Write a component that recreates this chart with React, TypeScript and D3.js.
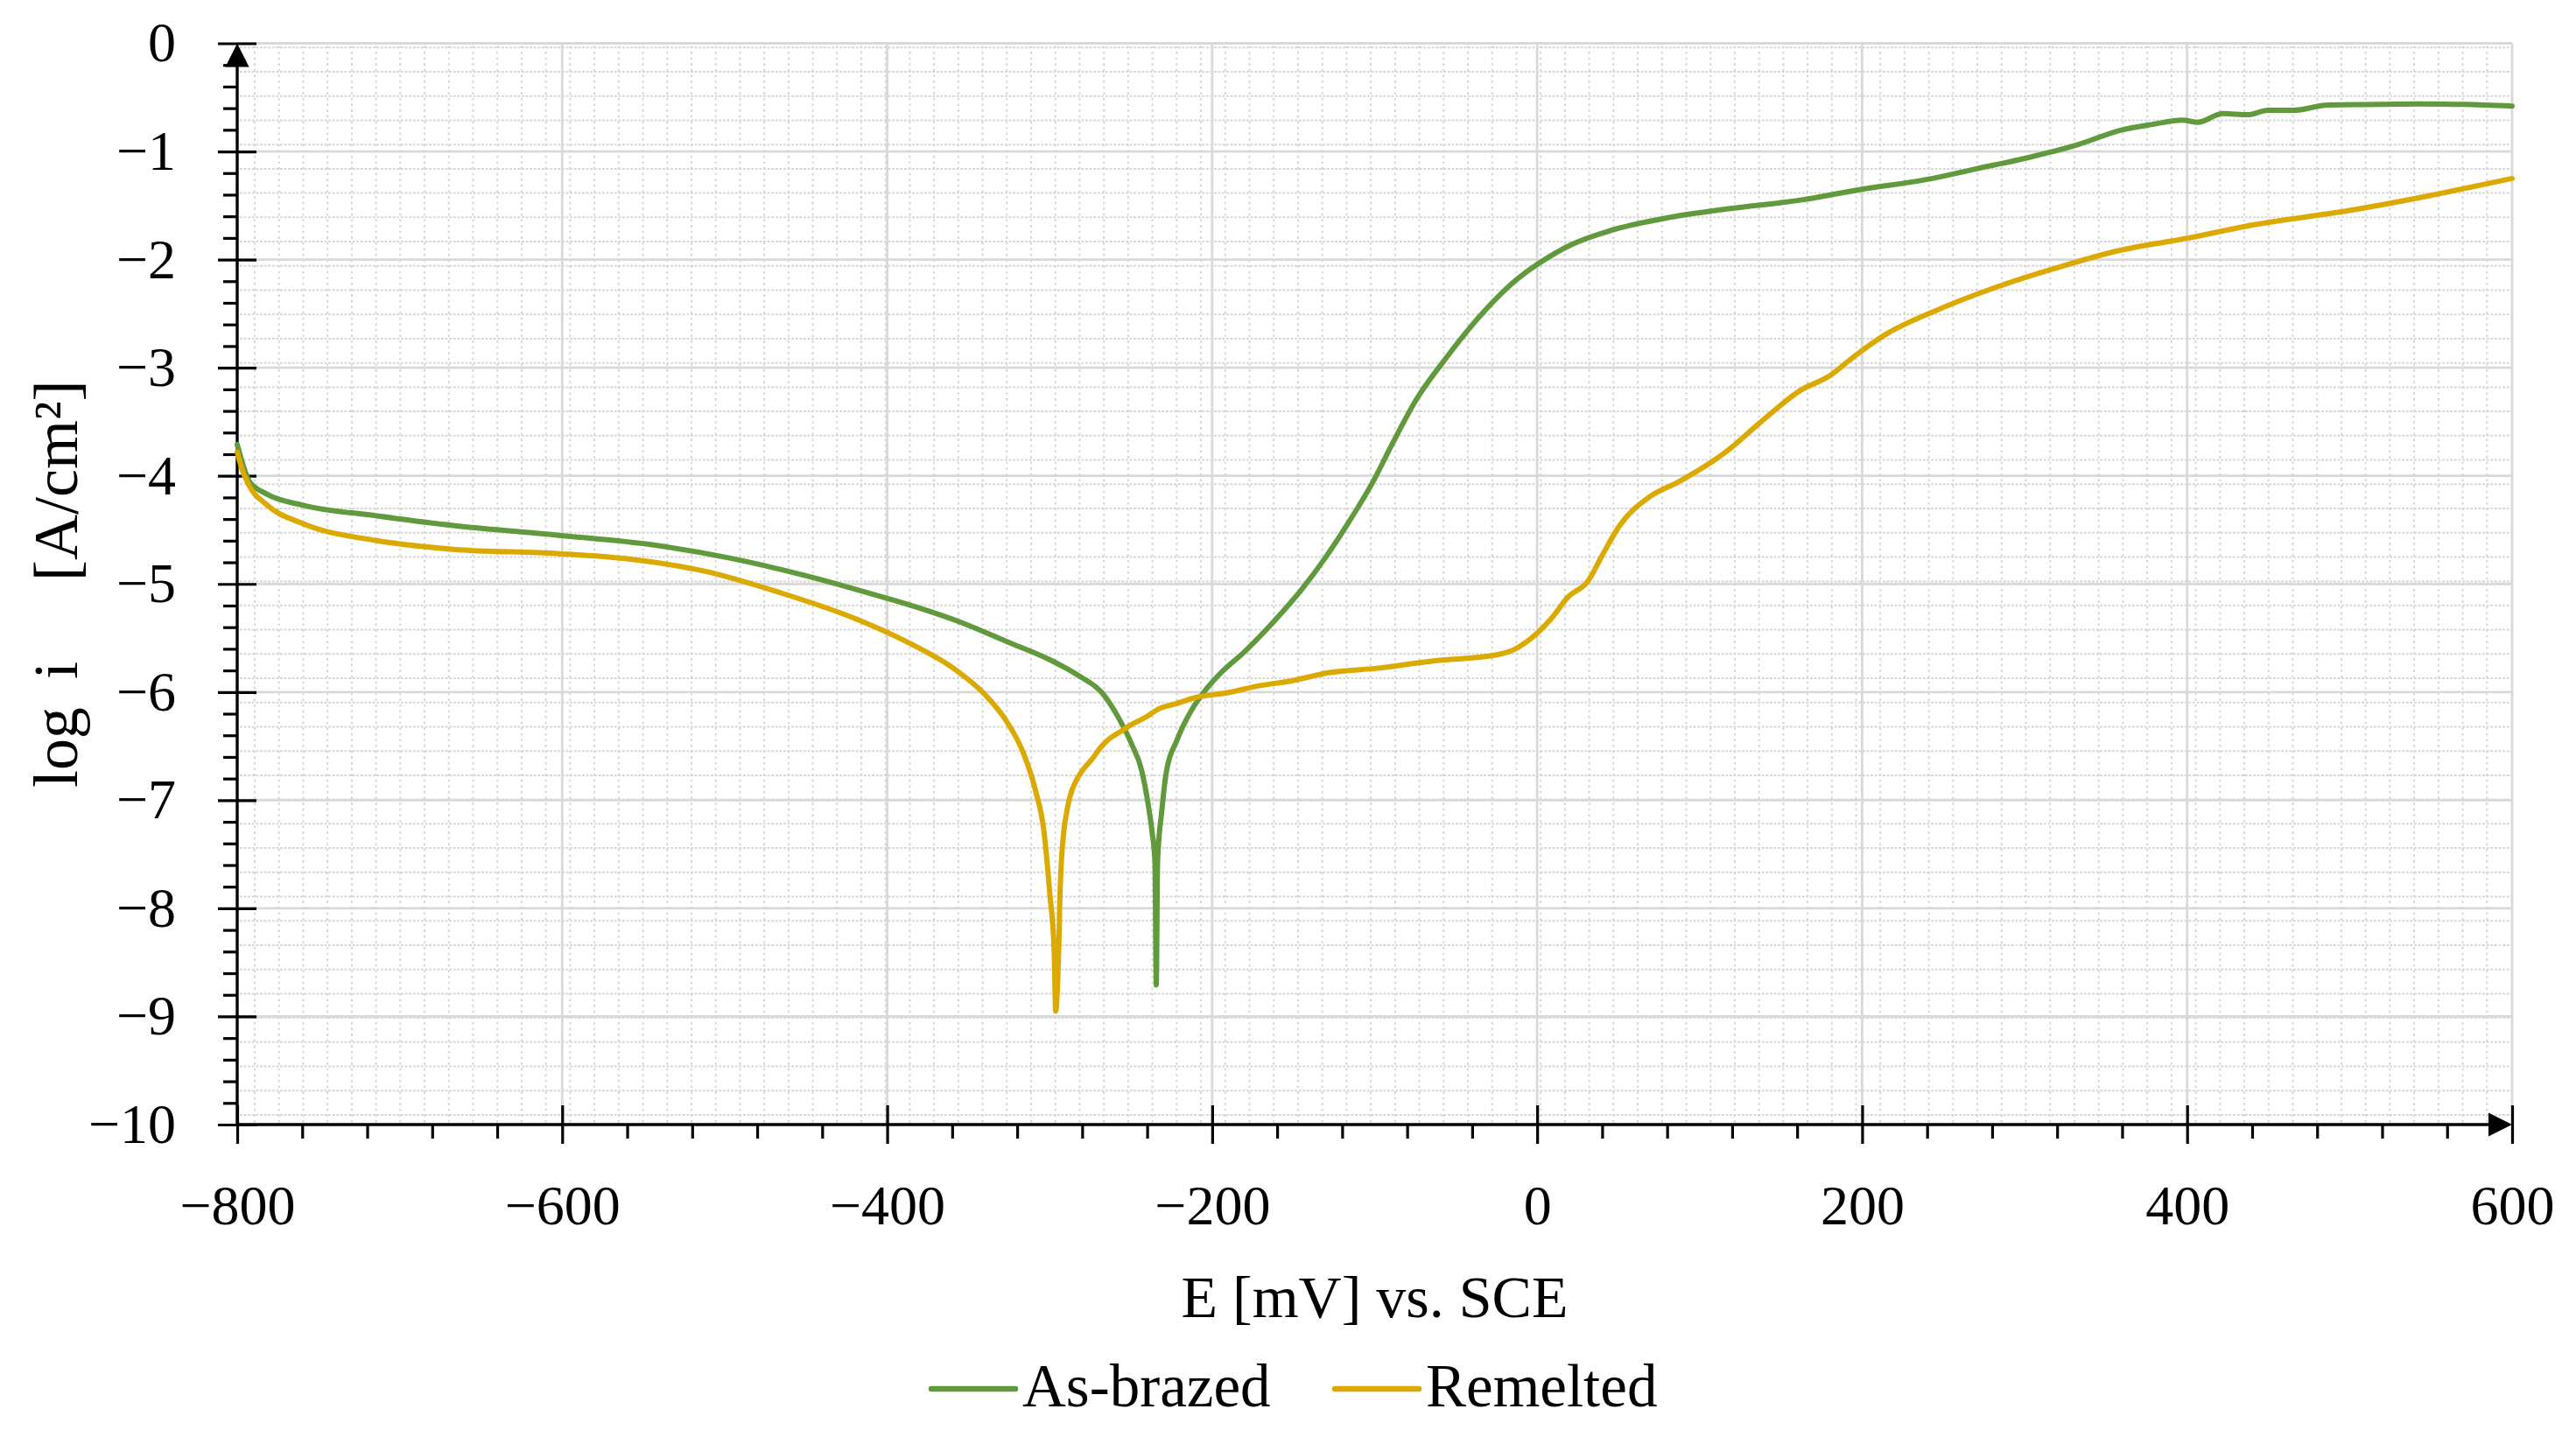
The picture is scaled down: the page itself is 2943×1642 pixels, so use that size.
import { useEffect, useRef } from "react";
import * as d3 from "d3";

const WIDTH = 2943;
const HEIGHT = 1642;
const FONT = "'Liberation Serif', 'Times New Roman', serif";

const E_DOMAIN = [-800, 600];
const LOG_DOMAIN = [-10, 0];
const X_TICKS = [-800, -600, -400, -200, 0, 200, 400, 600];
const Y_TICKS = [0, -1, -2, -3, -4, -5, -6, -7, -8, -9, -10];

const SERIES_NAMES = ["As-brazed", "Remelted"];
const SERIES_COLORS = ["#609a3c", "#dba900"];

// As-brazed: potential (mV vs. SCE) and log current density
const AS_BRAZED_E = [
  -800, -796.6, -792.6, -781.7, -760, -713.8, -667, -602, -543.5, -497, -451,
  -407.7, -380.8, -353.8, -326.9, -300, -282, -267.6, -256.8, -249.6, -243.3,
  -239.7, -237, -235.2, -234.4, -233.6, -231, -228.1, -221.8, -212.8, -205.6,
  -195.8, -179.6, -161.6, -145.4, -130, -115.6, -101.2, -89, -74.6, -55.5,
  -36.2, -14.6, 0.5, 21.4, 45.5, 81.6, 117.7, 162, 200, 239.5, 270.4, 301.3,
  332.2, 360, 378.6, 397.2, 406.5, 422, 437.3, 449.8, 465.3, 486.9, 517.9,
  542.6, 570.5, 600,
];
const AS_BRAZED_LOGI = [
  -3.71, -3.89, -4.05, -4.17, -4.27, -4.37, -4.46, -4.55, -4.64, -4.76, -4.92,
  -5.1, -5.22, -5.36, -5.53, -5.7, -5.85, -6.01, -6.26, -6.48, -6.73,
  -7.01, -7.29, -7.57, -8.71, -7.57, -7.1, -6.73, -6.45, -6.17, -6.01,
  -5.84, -5.62, -5.34, -5.06, -4.75, -4.42, -4.06, -3.7, -3.3, -2.9,
  -2.54, -2.21, -2.04, -1.86, -1.73, -1.61, -1.53, -1.45, -1.35, -1.26, -1.16, -1.06,
  -0.94, -0.8, -0.75, -0.71, -0.73, -0.65, -0.66, -0.62, -0.62, -0.57, -0.565,
  -0.56, -0.565, -0.58,
];

// Remelted
const REMELTED_E = [
  -800, -797, -793, -781.7, -760, -714, -667, -602, -559, -513, -466, -419.8,
  -380.8, -359.2, -339.4, -327, -316, -308.9, -303.5, -300, -297.2, -296.3,
  -294.5, -293.6, -291.3, -290, -287.4, -283.7, -280.1, -273.9, -268.5, -264,
  -256.8, -249.6, -240.6, -233.5, -222.7, -210.1, -192.1, -170.6, -152.6,
  -127.7, -98.8, -62.8, -26.6, -14.6, -0.3, 9.3, 19, 31, 40.6, 50.3, 69.6,
  86.5, 117.7, 137, 162, 180.6, 193, 214.7, 245.6, 279.7, 316.8, 357, 401,
  440.5, 502.4, 548.8, 600,
];
const REMELTED_LOGI = [
  -3.78, -3.94, -4.08, -4.27, -4.44, -4.6, -4.68, -4.72, -4.77, -4.88, -5.08, -5.32,
  -5.59, -5.78, -6.03, -6.26, -6.57, -6.9, -7.29, -7.85, -8.41, -8.95,
  -8.41, -7.85, -7.29, -7.15, -6.96, -6.82, -6.73, -6.62, -6.51, -6.44,
  -6.37, -6.3, -6.23, -6.16, -6.11, -6.05, -6.01, -5.94, -5.9,
  -5.82, -5.78, -5.71, -5.66, -5.61, -5.46, -5.31, -5.12, -4.98, -4.72, -4.47, -4.19,
  -4.06, -3.76, -3.51, -3.21, -3.07, -2.92, -2.69, -2.47, -2.27, -2.09, -1.92, -1.8,
  -1.68, -1.54, -1.41, -1.25,
];

const SERIES = [
  { name: SERIES_NAMES[0], color: SERIES_COLORS[0], e: AS_BRAZED_E, logi: AS_BRAZED_LOGI },
  { name: SERIES_NAMES[1], color: SERIES_COLORS[1], e: REMELTED_E, logi: REMELTED_LOGI },
];

export default function App() {
  const svgRef = useRef<SVGSVGElement>(null);

  useEffect(() => {
    if (!svgRef.current) return;
    const svg = d3.select(svgRef.current);
    svg.selectAll("*").remove();

    const left = 271, right = 2870, top = 49.5, bottom = 1285;
    const x = d3.scaleLinear().domain(E_DOMAIN).range([left, right]);
    const y = d3.scaleLinear().domain(LOG_DOMAIN).range([bottom, top]);

    svg.append("rect").attr("width", WIDTH).attr("height", HEIGHT).attr("fill", "#fff");

    // fine dotted background grid
    const cell = 27.72;
    const dots = svg.append("g").attr("stroke", "#d6d6d6").attr("stroke-width", 2);
    d3.range(left + 20, right - 2, cell).forEach((px) => {
      dots.append("line")
        .attr("x1", px).attr("x2", px).attr("y1", top + 3).attr("y2", bottom)
        .attr("stroke-dasharray", "2.6 4");
    });
    d3.range(top + 4.8, bottom - 2, cell).forEach((py) => {
      dots.append("line")
        .attr("x1", left + 3).attr("x2", right).attr("y1", py).attr("y2", py)
        .attr("stroke-dasharray", "2.8 1.8");
    });

    // major grid
    const grid = svg.append("g").attr("stroke", "#d9d9d9").attr("stroke-width", 2.8);
    X_TICKS.filter((v) => v !== E_DOMAIN[0]).forEach((v) => {
      grid.append("line").attr("x1", x(v)).attr("x2", x(v)).attr("y1", top).attr("y2", bottom);
    });
    Y_TICKS.filter((v) => v !== LOG_DOMAIN[0]).forEach((v) => {
      grid.append("line").attr("x1", left).attr("x2", right).attr("y1", y(v)).attr("y2", y(v));
    });

    // axes
    const styleAxis = (a: d3.Selection<SVGGElement, unknown, null, undefined>) => {
      a.select(".domain").remove();
      a.selectAll(".tick line").attr("stroke", "#000").attr("stroke-width", 3.2);
      a.attr("font-family", FONT).attr("font-size", 64);
      a.selectAll(".tick text").attr("fill", "#000");
    };

    const xMinor = d3.range(-800, 601, 40).filter((v) => v % 200 !== 0);
    svg.append("g")
      .attr("transform", `translate(0,${bottom})`)
      .call(d3.axisBottom(x).tickValues(xMinor).tickSize(16).tickFormat(() => ""))
      .call(styleAxis);
    svg.append("g")
      .attr("transform", `translate(0,${bottom})`)
      .call(d3.axisBottom(x).tickValues(X_TICKS).tickSize(22).tickFormat(d3.format("d")))
      .call(styleAxis)
      .call((a) => a.selectAll(".tick line").attr("y1", -22))
      .call((a) => a.selectAll(".tick text").attr("y", 114).attr("dy", 0));

    const yMinor = d3.range(0, 50).map((i) => -i * 0.2).filter((_, i) => i % 5 !== 0);
    svg.append("g")
      .attr("transform", `translate(${left},0)`)
      .call(d3.axisLeft(y).tickValues(yMinor).tickSize(16).tickFormat(() => ""))
      .call(styleAxis);
    svg.append("g")
      .attr("transform", `translate(${left},0)`)
      .call(d3.axisLeft(y).tickValues(Y_TICKS).tickSize(22).tickFormat(d3.format("d")))
      .call(styleAxis)
      .call((a) => a.selectAll(".tick line").attr("x1", 22))
      .call((a) => a.selectAll(".tick text").attr("x", -70).attr("dy", "0.32em"));

    // axis lines with arrows
    svg.append("line")
      .attr("x1", left).attr("x2", right - 10).attr("y1", bottom).attr("y2", bottom)
      .attr("stroke", "#000").attr("stroke-width", 3.4);
    svg.append("line")
      .attr("x1", left).attr("x2", left).attr("y1", bottom).attr("y2", top + 10)
      .attr("stroke", "#000").attr("stroke-width", 3.4);
    svg.append("path")
      .attr("d", `M${right},${bottom} L${right - 27},${bottom - 13.5} L${right - 27},${bottom + 13.5} Z`)
      .attr("fill", "#000");
    svg.append("path")
      .attr("d", `M${left},${top} L${left - 13.5},${top + 27} L${left + 13.5},${top + 27} Z`)
      .attr("fill", "#000");

    // data
    const line = d3.line<[number, number]>()
      .x((d) => x(d[0]))
      .y((d) => y(d[1]))
      .curve(d3.curveMonotoneX);
    SERIES.forEach((s) => {
      const pts = s.e.map((e, i) => [e, s.logi[i]] as [number, number]);
      svg.append("path")
        .attr("d", line(pts) ?? "")
        .attr("fill", "none")
        .attr("stroke", s.color)
        .attr("stroke-width", 6)
        .attr("stroke-linejoin", "round")
        .attr("stroke-linecap", "round");
    });

    // titles
    svg.append("text")
      .attr("x", (left + right) / 2).attr("y", 1505)
      .attr("text-anchor", "middle")
      .attr("font-family", FONT).attr("font-size", 68)
      .text("E [mV] vs. SCE");

    const yTitle = svg.append("text")
      .attr("transform", `translate(88,${(top + bottom) / 2}) rotate(-90)`)
      .attr("text-anchor", "middle")
      .attr("font-family", FONT).attr("font-size", 72);
    yTitle.append("tspan").text("log");
    yTitle.append("tspan").attr("dx", 32).text("i");
    yTitle.append("tspan").attr("dx", 92).text("[A/cm²]");

    // legend
    const legendX = [1064, 1525];
    SERIES.forEach((s, i) => {
      const lg = svg.append("g").attr("transform", `translate(${legendX[i]},1587)`);
      lg.append("line")
        .attr("x1", 0).attr("x2", 96).attr("y1", 0).attr("y2", 0)
        .attr("stroke", s.color).attr("stroke-width", 6.5).attr("stroke-linecap", "round");
      lg.append("text")
        .attr("x", 104).attr("y", 20)
        .attr("font-family", FONT).attr("font-size", 69)
        .text(s.name);
    });
  }, []);

  return (
    <svg
      ref={svgRef}
      width={WIDTH}
      height={HEIGHT}
      viewBox={`0 0 ${WIDTH} ${HEIGHT}`}
      style={{ position: "absolute", left: 0, top: 0, display: "block" }}
    />
  );
}
